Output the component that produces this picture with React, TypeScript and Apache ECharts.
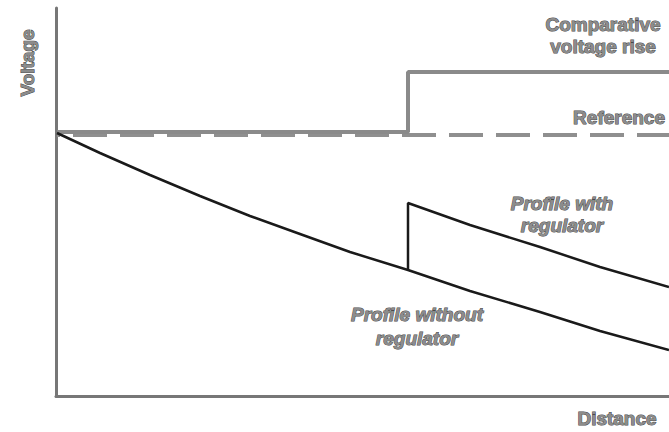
import React, { useEffect, useRef } from "react";
import * as echarts from "echarts";

// Data in distance / voltage units
const referenceLevel: number[][] = [[1, 261], [613, 261]];
const comparativeRise: number[][] = [[1, 264], [352, 264], [352, 324], [613, 324]];
const profileWithout: number[][] = [
  [1, 263], [44, 243], [94, 221], [144, 200], [194, 180], [244, 162],
  [294, 144], [352, 126], [414, 105], [484, 84], [544, 65], [613, 46],
];
const profileWith: number[][] = [
  [352, 126], [352, 193], [414, 171], [484, 149], [544, 129], [613, 109],
];

const FONT = '"Liberation Sans", Arial, sans-serif';

function label(text: string, x: number, y: number, align: string, italic = false, rotation = 0) {
  return {
    type: "text",
    x,
    y,
    rotation,
    silent: true,
    style: {
      text,
      x: 0,
      y: 0,
      textAlign: align,
      textVerticalAlign: "middle",
      fontSize: 19,
      fontWeight: "bold",
      fontStyle: italic ? "italic" : "normal",
      fontFamily: FONT,
      fill: "#8c8c8c",
      stroke: "#4a4a4a",
      lineWidth: 1,
    },
  };
}

export default function App() {
  const ref = useRef<HTMLDivElement>(null);
  useEffect(() => {
    if (!ref.current) return;
    const chart = echarts.init(ref.current, null, { renderer: "svg" });
    const axisCommon = {
      type: "value",
      axisLine: { show: true, lineStyle: { color: "#777", width: 3 } },
      axisTick: { show: false },
      axisLabel: { show: false },
      splitLine: { show: false },
    };
    chart.setOption({
      animation: false,
      grid: { left: 56, right: 0, top: 8, bottom: 36 },
      xAxis: { ...axisCommon, min: 0, max: 613 },
      yAxis: { ...axisCommon, min: 0, max: 388 },
      series: [
        {
          type: "line",
          data: referenceLevel,
          symbol: "none",
          lineStyle: { color: "#8f8f8f", width: 4, type: [34, 13], dashOffset: 31, cap: "butt" },
        },
        {
          type: "line",
          data: comparativeRise,
          symbol: "none",
          lineStyle: { color: "#8a8a8a", width: 4 },
        },
        {
          type: "line",
          data: profileWithout,
          symbol: "none",
          lineStyle: { color: "#1a1a1a", width: 2.5 },
        },
        {
          type: "line",
          data: profileWith,
          symbol: "none",
          lineStyle: { color: "#1a1a1a", width: 2.5 },
        },
      ],
      graphic: [
        label("Voltage", 27, 63, "center", false, Math.PI / 2),
        label("Comparative", 603, 24, "center"),
        label("voltage rise", 603, 46, "center"),
        label("Reference", 665, 117, "right"),
        label("Profile with", 562, 203, "center", true),
        label("regulator", 562, 225, "center", true),
        label("Profile without", 417, 314, "center", true),
        label("regulator", 417, 338, "center", true),
        label("Distance", 617, 418, "center"),
      ],
    });
    return () => chart.dispose();
  }, []);
  return <div ref={ref} style={{ width: 669, height: 432, position: "absolute", left: 0, top: 0 }} />;
}
